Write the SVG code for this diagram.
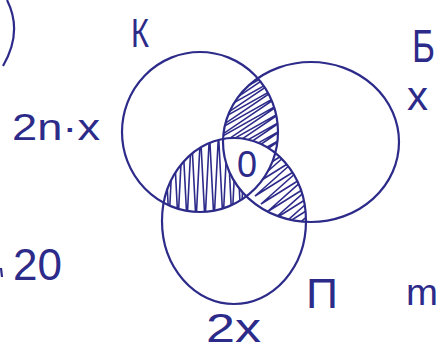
<svg xmlns="http://www.w3.org/2000/svg" width="441" height="351" viewBox="0 0 441 351">
<style>
.set{fill:none;stroke:#2d2b8a;stroke-width:2.2}
.hatch{fill:none;stroke:#2d2b8a;stroke-width:1.6;stroke-linejoin:miter}
.lbl{font-family:"Liberation Sans","DejaVu Sans",sans-serif;fill:#2d2b8a}
</style>
<defs>
<ellipse id="eK" cx="200" cy="132" rx="78" ry="80"/>
<ellipse id="eB" cx="311" cy="142" rx="88" ry="80"/>
<ellipse id="eP" cx="234" cy="221" rx="72" ry="83"/>
<clipPath id="cK"><use href="#eK"/></clipPath>
<clipPath id="cB"><use href="#eB"/></clipPath>
<clipPath id="cP"><use href="#eP"/></clipPath>
<mask id="mNotP"><rect width="441" height="351" fill="#fff"/><use href="#eP" fill="#000"/></mask>
<mask id="mNotB"><rect width="441" height="351" fill="#fff"/><use href="#eB" fill="#000"/></mask>
<mask id="mNotK"><rect width="441" height="351" fill="#fff"/><use href="#eK" fill="#000"/></mask>
</defs>
<rect width="441" height="351" fill="#fff"/>

<g id="shading">
<g clip-path="url(#cK)"><g clip-path="url(#cB)"><g mask="url(#mNotP)">
<path class="hatch" d="M205 92 l80 -45 l-80 54 l80 -45 l-80 54 l80 -45 l-80 54 l80 -45 l-80 54 l80 -45 l-80 54 l80 -45 l-80 54 l80 -45 l-80 54 l80 -45 l-80 54 l80 -45 l-80 54 l80 -45 l-80 54 l80 -45 l-80 54 l80 -45 l-80 54"/>
</g></g></g>
<g clip-path="url(#cK)"><g clip-path="url(#cP)"><g mask="url(#mNotB)">
<path class="hatch" d="M160 222 l4.5 -88 l4.5 88 l4.5 -88 l4.5 88 l4.5 -88 l4.5 88 l4.5 -88 l4.5 88 l4.5 -88 l4.5 88 l4.5 -88 l4.5 88 l4.5 -88 l4.5 88 l4.5 -88 l4.5 88 l4.5 -88 l4.5 88 l4.5 -88 l4.5 88 l4.5 -88 l4.5 88"/>
</g></g></g>
<g clip-path="url(#cB)"><g clip-path="url(#cP)"><g mask="url(#mNotK)">
<path class="hatch" d="M270 116 l-45 40 l51 -32 l-45 40 l51 -32 l-45 40 l51 -32 l-45 40 l51 -32 l-45 40 l51 -32 l-45 40 l51 -32 l-45 40 l51 -32 l-45 40 l51 -32 l-45 40 l51 -32 l-45 40 l51 -32 l-45 40 l51 -32 l-45 40 l51 -32 l-45 40 l51 -32"/>
</g></g></g>
</g>

<g id="set-K">
<use href="#eK" class="set"/>
<text class="lbl" x="131" y="47" font-size="40" textLength="18" lengthAdjust="spacingAndGlyphs">К</text>
<text class="lbl" x="12" y="140" font-size="36" textLength="88" lengthAdjust="spacingAndGlyphs">2n·x</text>
</g>
<g id="set-B">
<use href="#eB" class="set"/>
<text class="lbl" x="412" y="62" font-size="46" textLength="23" lengthAdjust="spacingAndGlyphs">Б</text>
<text class="lbl" x="407" y="110" font-size="40" textLength="21" lengthAdjust="spacingAndGlyphs">x</text>
</g>
<g id="set-P">
<use href="#eP" class="set"/>
<text class="lbl" x="306" y="308" font-size="42" textLength="32" lengthAdjust="spacingAndGlyphs">П</text>
<text class="lbl" x="206" y="342" font-size="40" textLength="55" lengthAdjust="spacingAndGlyphs">2x</text>
</g>
<g id="center">
<text class="lbl" x="247" y="177" font-size="36" text-anchor="middle">0</text>
</g>
<g id="notes">
<text class="lbl" x="13" y="280" font-size="44" textLength="49" lengthAdjust="spacingAndGlyphs">20</text>
<text class="lbl" x="406" y="305" font-size="36" textLength="32" lengthAdjust="spacingAndGlyphs">m</text>
<path class="set" d="M7 0 Q23 32 3 66"/>
<path class="set" d="M1 268 L2 277" stroke-width="2"/>
</g>
</svg>
